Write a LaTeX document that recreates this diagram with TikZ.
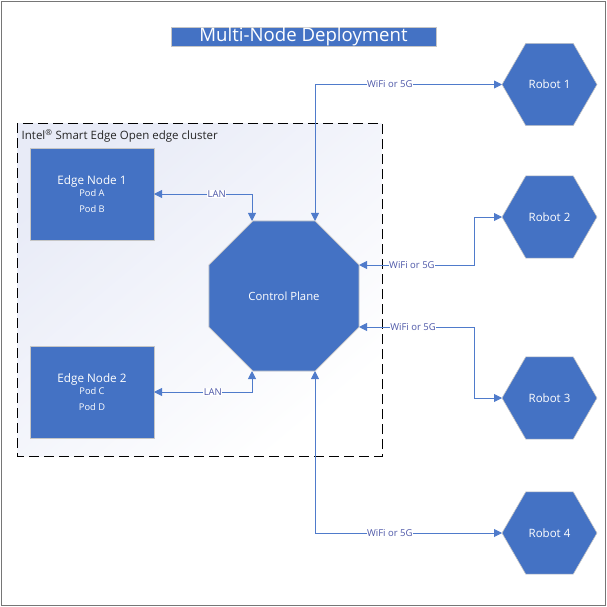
\documentclass[tikz,border=0pt]{standalone}
\usepackage{fontspec}
\setmainfont{Open Sans}
\usetikzlibrary{shapes.geometric,arrows.meta,calc}
\definecolor{nodeblue}{HTML}{4472C4}
\definecolor{linkblue}{HTML}{4F7BCB}
\definecolor{lbltext}{HTML}{4D57A8}
\definecolor{frame}{HTML}{767676}
\definecolor{clfill}{HTML}{E8EBF7}
\begin{document}
\begin{tikzpicture}[x=1pt,y=-1pt,
  box/.style={draw=gray!45, line width=0.6pt, fill=nodeblue, text=white, inner sep=0pt, outer sep=0pt},
  robot/.style={box, regular polygon, regular polygon sides=6, minimum size=95pt, font=\fontsize{11.5}{13}\selectfont},
  edgebox/.style={box, minimum width=124pt, minimum height=92pt, align=center},
  conn/.style={draw=linkblue, line width=0.9pt, {Triangle[length=8pt,width=8pt]}-{Triangle[length=8pt,width=8pt]}},
  lbl/.style={fill=white, text=lbltext, inner sep=0.6pt, font=\fontsize{9.5}{10}\selectfont}
]
\useasboundingbox (0,0) rectangle (607,607);
\draw[frame, line width=1.3pt] (1.2,1.2) rectangle (605.3,605.3);

% title
\node[box, minimum width=265pt, minimum height=18pt, font=\fontsize{18.6}{19}\selectfont] (title) at (303.5,37) {Multi-Node Deployment};

% cluster
\shade[top color=clfill, bottom color=white, shading angle=40] (17,123) rectangle (382,456);
\draw[black, line width=1pt, dash pattern=on 10pt off 5pt] (17,123) rectangle (382,456);
\node[anchor=west, inner sep=0pt, text=black!85, font=\fontsize{11.5}{13}\selectfont] (cllabel) at (21.5,136) {Intel\textsuperscript{®} Smart Edge Open edge cluster};

% edge nodes
\node[edgebox] (en1) at (92,194) {{\fontsize{11.7}{13}\selectfont Edge Node 1}\\[0pt]{\fontsize{9.3}{15}\selectfont Pod A}\\[4pt]{\fontsize{9.3}{15}\selectfont Pod B}};
\node[edgebox] (en2) at (92,392) {{\fontsize{11.7}{13}\selectfont Edge Node 2}\\[0pt]{\fontsize{9.3}{15}\selectfont Pod C}\\[4pt]{\fontsize{9.3}{15}\selectfont Pod D}};

% control plane
\node[box, regular polygon, regular polygon sides=8, minimum size=162.4pt, font=\fontsize{11.3}{13}\selectfont] (cp) at (284,296) {Control Plane};

% robots
\node[robot] (r1) at (549.5,84.5) {Robot 1};
\node[robot] (r2) at (549.5,217) {Robot 2};
\node[robot] (r3) at (549.5,398) {Robot 3};
\node[robot] (r4) at (549.5,533) {Robot 4};

\coordinate (cx) at (474,0);

% connectors
\draw[conn] (r1.west) -| node[lbl, pos=0.3] {WiFi or 5G} ([xshift=31pt]cp.north);
\draw[conn] ([yshift=31pt]cp.east) -- node[lbl, pos=0.46] {WiFi or 5G} ([yshift=31pt]cp.east -| cx) |- (r2.west);
\draw[conn] ([yshift=-31pt]cp.east) -- node[lbl, pos=0.47] {WiFi or 5G} ([yshift=-31pt]cp.east -| cx) |- (r3.west);
\draw[conn] ([xshift=31pt]cp.south) |- node[lbl, pos=0.7] {WiFi or 5G} (r4.west);
\draw[conn] (en1.east) -| node[lbl, pos=0.32] {LAN} ([xshift=-32pt]cp.north);
\draw[conn] (en2.east) -| node[lbl, pos=0.3] {LAN} ([xshift=-32pt]cp.south);
\end{tikzpicture}
\end{document}
